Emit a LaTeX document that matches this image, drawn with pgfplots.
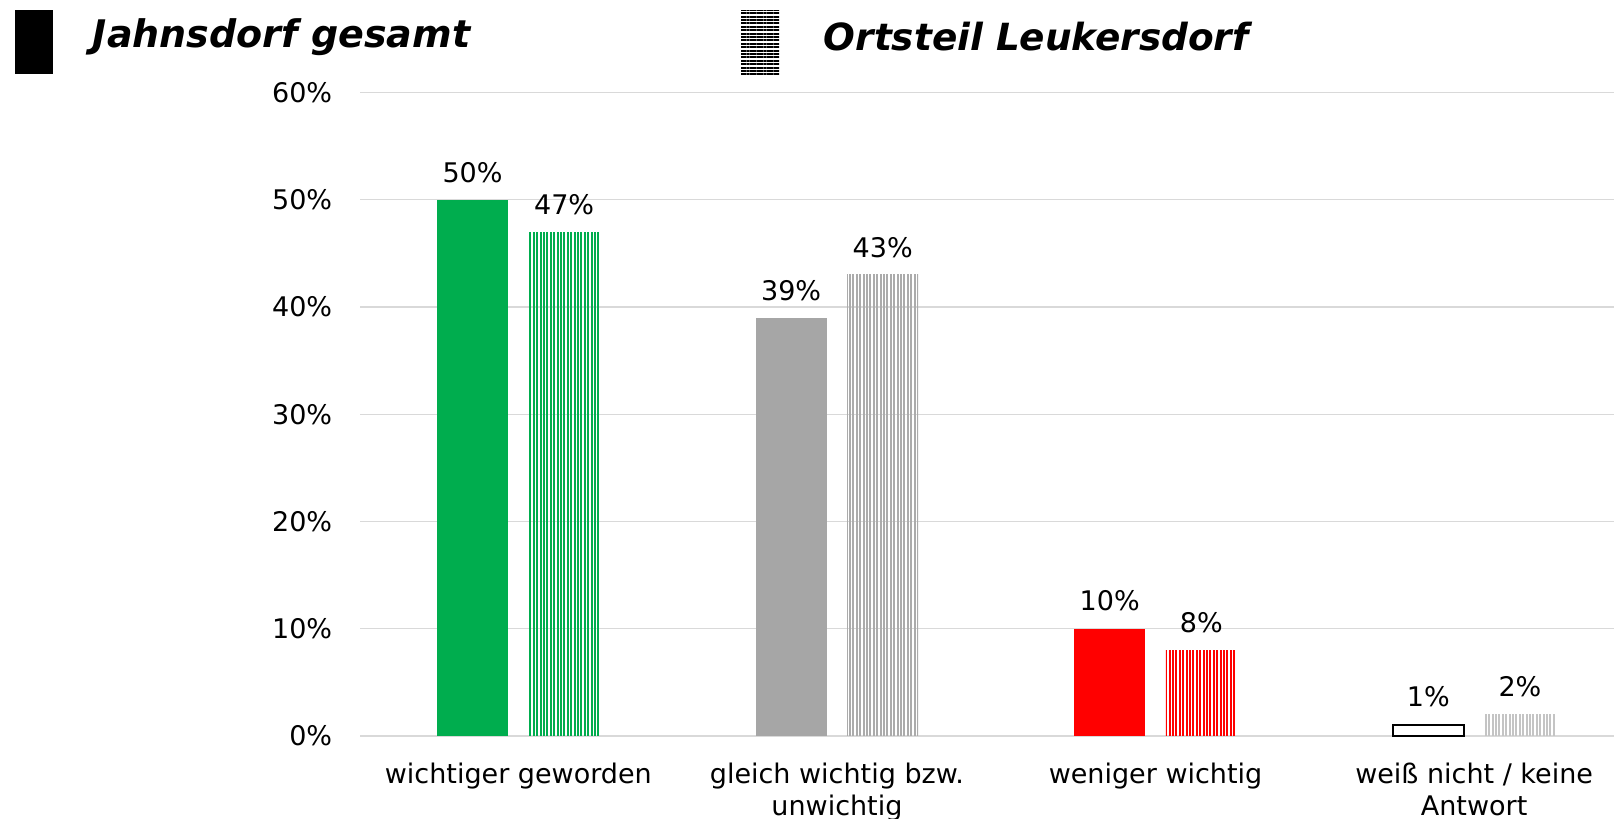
\documentclass[border=0pt]{standalone}
\usepackage{fontspec}
\setmainfont{DejaVu Sans}
\usepackage{pgfplots}
\pgfplotsset{compat=1.18}
\usetikzlibrary{patterns.meta}
\definecolor{cgreen}{HTML}{00AD4E}
\definecolor{cgray}{HTML}{A6A6A6}
\definecolor{cgrayb}{HTML}{ABABAB}
\definecolor{cgrayc}{HTML}{C4C4C4}
\definecolor{cred}{HTML}{FF0000}
\definecolor{cgrid}{HTML}{D9D9D9}
\begin{document}
\begin{tikzpicture}
\path[use as bounding box] (-180.15pt,-41.5pt) rectangle (626.85pt,368pt);
\begin{axis}[
  at={(0pt,0pt)}, anchor=south west,
  scale only axis, width=626.85pt, height=321.7pt,
  xmin=-0.496, xmax=3.439, ymin=0, ymax=60,
  ybar, bar width=35.5pt,
  /pgf/number format/assume math mode=true,
  axis line style={draw=none},
  major tick length=0pt,
  ytick={0,10,20,30,40,50,60},
  yticklabel={\pgfmathprintnumber{\tick}\%},
  yticklabel style={inner sep=0pt, anchor=east, xshift=-13.9pt, font=\fontsize{13.5}{16}\selectfont},
  ymajorgrids, grid style={cgrid, line width=0.6pt},
  xtick={0,1,2,3},
  xticklabels={wichtiger geworden, {gleich wichtig bzw.\\unwichtig}, weniger wichtig, {weiß nicht / keine\\Antwort}},
  xticklabel style={align=center, anchor=north, inner sep=0pt, yshift=-13.2pt, font=\fontsize{13.5}{16}\selectfont},
  nodes near coords={\pgfmathprintnumber{\pgfplotspointmeta}\%},
  nodes near coords style={font=\fontsize{13.5}{16}\selectfont, anchor=south, inner sep=0pt, yshift=8.5pt, text=black},
  clip=false,
]
\addplot[fill=cgreen, draw=none, bar shift=-22.9pt] coordinates {(0,50)};
\addplot[pattern={Lines[angle=90,distance=1.7pt,line width=1pt]}, pattern color=cgreen, draw=none, bar shift=22.9pt] coordinates {(0,47)};
\addplot[fill=cgray, draw=none, bar shift=-22.9pt] coordinates {(1,39)};
\addplot[pattern={Lines[angle=90,distance=1.7pt,line width=1pt]}, pattern color=cgrayb, draw=none, bar shift=22.9pt] coordinates {(1,43)};
\addplot[fill=cred, draw=none, bar shift=-22.9pt] coordinates {(2,10)};
\addplot[pattern={Lines[angle=90,distance=1.7pt,line width=1pt]}, pattern color=cred, draw=none, bar shift=22.9pt] coordinates {(2,8)};
\addplot[fill=white, draw=black, line width=1pt, bar shift=-22.9pt] coordinates {(3,1)};
\addplot[pattern={Lines[angle=90,distance=1.7pt,line width=1pt]}, pattern color=cgrayc, draw=none, bar shift=22.9pt] coordinates {(3,2)};
\end{axis}
% legend
\fill[black] (-172.45pt,330.95pt) rectangle (-153.4pt,362.85pt);
\node[anchor=west, inner sep=0pt, font=\fontsize{19}{23}\selectfont\bfseries\itshape] at (-133.85pt,349.5pt) {Jahnsdorf gesamt};
\path[pattern={Lines[angle=0,distance=1.7pt,line width=1pt]}, pattern color=black] (190.35pt,330.95pt) rectangle (209.35pt,362.85pt);
\node[anchor=west, inner sep=0pt, font=\fontsize{18.7}{23}\selectfont\bfseries\itshape] at (231.55pt,349.5pt) {Ortsteil Leukersdorf};
\end{tikzpicture}
\end{document}
